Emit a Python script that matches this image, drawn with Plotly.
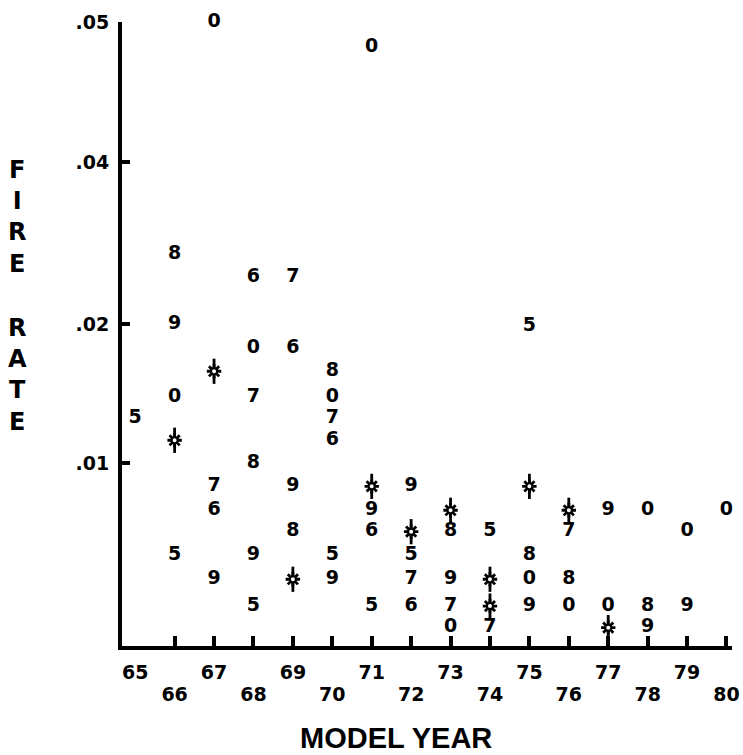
import numpy as np
import plotly.graph_objects as go

# Fire-rate axis: log-interpolated between the labelled rates
SCALE_RATES = [0.0025, 0.01, 0.02, 0.04, 0.05]
SCALE_UNITS = [-93.0, 185.0, 324.0, 486.0, 625.3]
TICK_RATES = [0.01, 0.02, 0.04, 0.05]
TICK_TEXT = [".01", ".02", ".04", ".05"]

# Model-year axis
TICK_YEARS = list(range(66, 81))
LABEL_YEARS_UPPER = [65, 67, 69, 71, 73, 75, 77, 79]
LABEL_YEARS_LOWER = [66, 68, 70, 72, 74, 76, 78, 80]

# Fire rates by model year, one set per calendar year (plotted as its last digit)
CY75_MODEL = [65, 66, 68, 70, 71, 72, 74, 75]
CY75_RATE = [0.0125, 0.0063, 0.0049, 0.0063, 0.0049, 0.0063, 0.0071, 0.0198]

CY76_MODEL = [67, 68, 69, 70, 71, 72]
CY76_RATE = [0.0079, 0.0244, 0.0177, 0.0112, 0.0071, 0.0049]

CY77_MODEL = [67, 68, 69, 70, 72, 73, 74, 76]
CY77_RATE = [0.0089, 0.0139, 0.0244, 0.0125, 0.0056, 0.0049, 0.0044, 0.0071]

CY78_MODEL = [66, 68, 69, 70, 73, 75, 76, 78]
CY78_RATE = [0.0269, 0.0100, 0.0071, 0.0158, 0.0071, 0.0063, 0.0056, 0.0049]

CY79_MODEL = [66, 67, 68, 69, 70, 71, 72, 73, 75, 77, 78, 79]
CY79_RATE = [0.0200, 0.0056, 0.0063, 0.0089, 0.0056, 0.0079, 0.0089, 0.0056,
             0.0049, 0.0079, 0.0044, 0.0049]

CY80_MODEL = [66, 67, 68, 70, 71, 73, 75, 76, 77, 78, 79, 80]
CY80_RATE = [0.0139, 0.0500, 0.0177, 0.0139, 0.0481, 0.0044, 0.0056, 0.0049,
             0.0049, 0.0079, 0.0071, 0.0079]

# Starred points
STAR_MODEL = [66, 67, 69, 71, 72, 73, 74, 74, 75, 76, 77]
STAR_RATE = [0.0112, 0.0158, 0.0056, 0.0089, 0.0071, 0.0079, 0.0056, 0.0049,
             0.0089, 0.0079, 0.0044]

SERIES = [
    ("5", "1975", CY75_MODEL, CY75_RATE),
    ("6", "1976", CY76_MODEL, CY76_RATE),
    ("7", "1977", CY77_MODEL, CY77_RATE),
    ("8", "1978", CY78_MODEL, CY78_RATE),
    ("9", "1979", CY79_MODEL, CY79_RATE),
    ("0", "1980", CY80_MODEL, CY80_RATE),
]


def rate_to_units(rates):
    return np.interp(np.log(np.asarray(rates, dtype=float)),
                     np.log(SCALE_RATES), SCALE_UNITS)


X_RANGE = [64.665, 80.14]
Y_RANGE = [2.0, 626.0]

DIGIT_FONT = dict(family="DejaVu Sans", size=19, color="black", weight="bold")
TICK_FONT = dict(family="DejaVu Sans", size=19, color="black", weight="bold")
TITLE_FONT = dict(family="Liberation Sans", size=29, color="black", weight="bold")
YTITLE_FONT = dict(family="DejaVu Sans", size=24, color="black", weight="bold")

fig = go.Figure()

for digit, cal_year, years, rates in SERIES:
    fig.add_trace(go.Scatter(
        x=years, y=rate_to_units(rates), mode="text",
        text=[digit] * len(years), textposition="middle center",
        textfont=DIGIT_FONT, cliponaxis=False, showlegend=False, name=cal_year,
    ))

# starred points: spiked ring built from three stacked symbols
star_y = rate_to_units(STAR_RATE)
fig.add_trace(go.Scatter(
    x=STAR_MODEL, y=star_y, mode="markers", cliponaxis=False, showlegend=False,
    marker=dict(symbol="asterisk-open", size=12, color="black",
                line=dict(width=2.8, color="black")),
))
fig.add_trace(go.Scatter(
    x=STAR_MODEL, y=star_y, mode="markers", cliponaxis=False, showlegend=False,
    marker=dict(symbol="line-ns-open", size=18, color="black",
                line=dict(width=2.8, color="black")),
))
fig.add_trace(go.Scatter(
    x=STAR_MODEL, y=star_y, mode="markers", cliponaxis=False, showlegend=False,
    marker=dict(symbol="circle", size=6, color="white",
                line=dict(width=2, color="black")),
))

# empty traces so the label-only axes are drawn
for ax in ("x2", "x3"):
    fig.add_trace(go.Scatter(x=[], y=[], xaxis=ax, yaxis="y", showlegend=False,
                             hoverinfo="skip"))

common_x = dict(range=X_RANGE, showgrid=False, zeroline=False, fixedrange=True,
                automargin=False)

fig.update_layout(
    width=743, height=755,
    margin=dict(l=122, r=11, t=22, b=109),
    paper_bgcolor="white", plot_bgcolor="white",
    xaxis=dict(**common_x, showline=True, linecolor="black", linewidth=4,
               tickmode="array", tickvals=TICK_YEARS, ticks="inside",
               ticklen=10, tickwidth=3.5, tickcolor="black",
               showticklabels=False),
    xaxis2=dict(**common_x, overlaying="x", anchor="y", side="bottom",
                showline=False, ticks="", tickmode="array",
                tickvals=LABEL_YEARS_UPPER,
                ticktext=[str(v) for v in LABEL_YEARS_UPPER],
                tickfont=TICK_FONT, ticklabelstandoff=13),
    xaxis3=dict(**common_x, overlaying="x", anchor="y", side="bottom",
                showline=False, ticks="", tickmode="array",
                tickvals=LABEL_YEARS_LOWER,
                ticktext=[str(v) for v in LABEL_YEARS_LOWER],
                tickfont=TICK_FONT, ticklabelstandoff=35),
    yaxis=dict(range=Y_RANGE, showgrid=False, zeroline=False, fixedrange=True,
               automargin=False,
               showline=True, linecolor="black", linewidth=4,
               tickmode="array", tickvals=list(rate_to_units(TICK_RATES)),
               ticktext=TICK_TEXT, ticks="inside", ticklen=8, tickwidth=4,
               tickcolor="black", tickfont=TICK_FONT, ticklabelstandoff=5),
)

fig.add_annotation(text="MODEL YEAR", xref="paper", yref="paper",
                   x=(396 - 122) / 610, y=-0.148, xanchor="center",
                   yanchor="middle", showarrow=False, font=TITLE_FONT)

# vertical axis title, stacked letter by letter
fig.add_annotation(text="F<br>I<br>R<br>E", xref="paper", yref="paper",
                   x=(17 - 122) / 610, y=(646 - 217) / 624,
                   xanchor="center", yanchor="middle", showarrow=False,
                   font=YTITLE_FONT)
fig.add_annotation(text="R<br>A<br>T<br>E", xref="paper", yref="paper",
                   x=(17 - 122) / 610, y=(646 - 375) / 624,
                   xanchor="center", yanchor="middle", showarrow=False,
                   font=YTITLE_FONT)

fig.write_html("out.html")
